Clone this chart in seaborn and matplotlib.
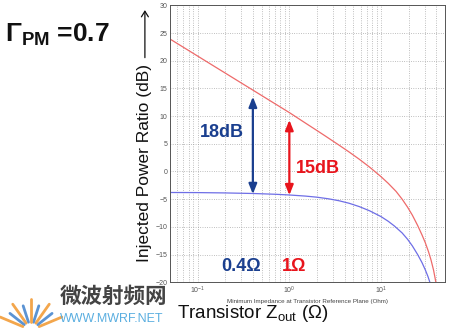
import numpy as np
import pandas as pd
import matplotlib
matplotlib.use("Agg")
import matplotlib.pyplot as plt
import seaborn as sns
from matplotlib.ticker import LogLocator, MultipleLocator, NullFormatter
from matplotlib.lines import Line2D
from matplotlib.patches import FancyArrowPatch

# Data
red_z = [0.05, 0.07, 0.1, 0.15, 0.2, 0.3, 0.4, 0.6, 0.8, 1.0, 1.5, 2.0, 2.5, 3.5, 4.5, 5.8, 7.5,
         10, 12, 14.6, 17, 19.5, 22, 25.1, 28, 30.4, 33, 35.1, 37.5, 39.8]
red_db = [23.9, 22.41, 20.83, 19.03, 17.76, 15.96, 14.69, 12.89, 11.62, 10.63, 8.73, 7.39, 6.34, 4.73,
          3.50, 2.20, 0.79, -0.94, -2.15, -3.6, -5.0, -6.45, -7.9, -9.75, -11.45, -12.85, -14.5,
          -15.95, -17.85, -20.1]
blue_z = [0.05, 0.1, 0.2, 0.4, 0.7, 1.0, 1.5, 2.0, 2.7, 3.5, 4.5, 5.8, 7.5, 10, 12, 14, 17,
          19.5, 22, 25.1, 28, 30.4, 32.5, 34.3]
blue_db = [-3.8, -3.82, -3.88, -3.98, -4.12, -4.25, -4.45, -4.65, -4.95, -5.3, -5.75, -6.35, -7.1,
           -8.15, -9.0, -9.85, -11.1, -12.25, -13.45, -15.0, -16.45, -17.75, -18.95, -20.1]
yticks = [-20, -15, -10, -5, 0, 5, 10, 15, 20, 25, 30]

df = pd.concat([
    pd.DataFrame({"Z": red_z, "dB": red_db, "s": "red"}),
    pd.DataFrame({"Z": blue_z, "dB": blue_db, "s": "blue"}),
])

sns.set_theme(style="white")
plt.rcParams['font.family'] = ['Liberation Sans', 'DejaVu Sans', 'Noto Sans CJK SC']
plt.rcParams['mathtext.fontset'] = 'custom'
plt.rcParams['mathtext.rm'] = 'Liberation Sans'
plt.rcParams['mathtext.bf'] = 'Liberation Sans:bold'
plt.rcParams['mathtext.it'] = 'Liberation Sans:italic'

W, H = 450, 332
fig = plt.figure(figsize=(4.5, 3.32), dpi=100)
ax = fig.add_axes([0.378, 0.150, 0.611, 0.834])

sns.lineplot(data=df, x="Z", y="dB", hue="s", palette={"red": "#ee6a6a", "blue": "#6e6ee6"},
             ax=ax, legend=False, linewidth=0.9, sort=False)

ax.set_xscale("log")
ax.set_xlim(0.05, 50)
ax.set_ylim(-20, 30)
ax.set_yticks(yticks)
ax.xaxis.set_major_locator(LogLocator(base=10, numticks=10))
ax.xaxis.set_minor_locator(LogLocator(base=10, subs=np.arange(2, 10), numticks=20))
ax.xaxis.set_minor_formatter(NullFormatter())
ax.yaxis.set_minor_locator(MultipleLocator(1))
gstyle = dict(color="#9a9a9a", linestyle=(0, (1, 2)), linewidth=0.55)
ax.grid(which="major", axis="both", **gstyle)
ax.grid(which="minor", axis="x", **gstyle)
ax.tick_params(axis="both", which="both", direction="in", labelsize=5, colors="#444444",
               length=2, width=0.5, labelcolor="#555555", pad=2)
ax.tick_params(which="minor", length=1)
for sp in ax.spines.values():
    sp.set_color("#555555")
    sp.set_linewidth(0.7)
ax.set_xlabel("Minimum Impedance at Transistor Reference Plane (Ohm)", fontsize=4.5,
              color="#444444", labelpad=2)
ax.set_ylabel("")

# double arrows
navy = "#1a3f8f"
red = "#e8141c"
ax.annotate("", xy=(0.4, 14.0), xytext=(0.4, -4.6),
            arrowprops=dict(arrowstyle="<|-|>,head_length=0.5,head_width=0.2", color=navy, lw=1.6))
ax.annotate("", xy=(1.0, 9.8), xytext=(1.0, -4.8),
            arrowprops=dict(arrowstyle="<|-|>,head_length=0.5,head_width=0.2", color=red, lw=1.6))

ax.text(0.184, 7.1, "18dB", color=navy, fontsize=13, fontweight="bold", ha="center", va="center")
ax.text(2.05, 0.6, "15dB", color=red, fontsize=13, fontweight="bold", ha="center", va="center")
ax.text(0.295, -17.2, "0.4Ω", color=navy, fontsize=13, fontweight="bold", ha="center", va="center")
ax.text(1.12, -17.2, "1Ω", color=red, fontsize=13, fontweight="bold", ha="center", va="center")

# title
fig.text(0.012, 0.873, r"Γ$_{\mathbf{PM}}$ =0.7", fontsize=19, fontweight="bold",
         ha="left", va="baseline", color="#111111")

# y label with arrow
fig.text(0.322, 0.51, "Injected Power Ratio (dB)", fontsize=12.5, rotation=90,
         ha="center", va="center", color="#111111")
fig.add_artist(FancyArrowPatch(
    (0.322, 0.818), (0.322, 0.978), transform=fig.transFigure,
    arrowstyle="->,head_length=4,head_width=2.5", color="#111111", lw=0.9))

fig.text(0.393, 0.057, r"Transistor Z$_{\mathregular{out}}$ (Ω)", fontsize=13.5,
         ha="left", va="center", color="#111111")

# watermark
fig.text(0.133, 0.108, "微波射频网", fontsize=15.5, fontweight="bold", color="#444444",
         family=["Noto Sans CJK SC"], ha="left", va="center")
fig.text(0.133, 0.040, "WWW.MWRF.NET", fontsize=9, color="#5aaee0", ha="left", va="center")
cx, cy = 31, 330
for i, ang in enumerate(np.linspace(25, 155, 9)):
    a = np.deg2rad(ang)
    r0, r1 = 9, 34 if i % 2 == 0 else 28
    col = "#f3a64c" if i % 2 == 0 else "#5b93d3"
    x0, y0 = cx + r0 * np.cos(a), cy - r0 * np.sin(a) * 0.9
    x1, y1 = cx + r1 * np.cos(a), cy - r1 * np.sin(a) * 0.9
    fig.add_artist(Line2D([x0 / W, x1 / W], [1 - y0 / H, 1 - y1 / H],
                          transform=fig.transFigure, color=col, lw=2.0, solid_capstyle="round"))

fig.savefig("out.png", dpi=100)
